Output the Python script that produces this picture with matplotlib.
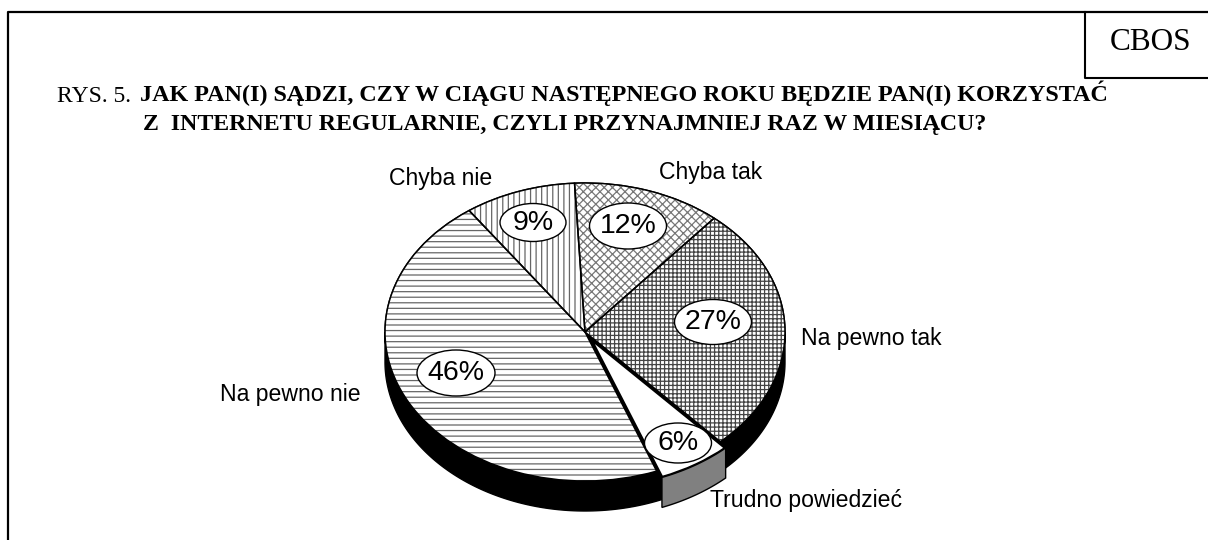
import numpy as np
import matplotlib
matplotlib.use("Agg")
import matplotlib.pyplot as plt
from matplotlib.patches import Ellipse

W, H = 1208, 540

labels = ["Chyba tak", "Na pewno tak", "Trudno powiedzieć", "Na pewno nie", "Chyba nie"]
values = [12, 27, 6, 46, 9]
pct_labels = ["12%", "27%", "6%", "46%", "9%"]
hatches = ["xxxx", "++++", "", "---", "|||"]
hatch_colors = ["#777777", "#444444", "k", "#666666", "#666666"]
explode = [0, 0, 0.05, 0, 0]

title_1a = "RYS. 5."
title_1b = "JAK PAN(I) SĄDZI, CZY W CIĄGU NASTĘPNEGO ROKU BĘDZIE PAN(I) KORZYSTAĆ"
title_2 = "Z  INTERNETU REGULARNIE, CZYLI PRZYNAJMNIEJ RAZ W MIESIĄCU?"

plt.rcParams["hatch.linewidth"] = 0.9
plt.rcParams["font.family"] = ["Liberation Sans", "DejaVu Sans"]
fig = plt.figure(figsize=(W / 100, H / 100), dpi=100)


def pixel_axes(z):
    a = fig.add_axes([0, 0, 1, 1], zorder=z)
    a.set_xlim(0, W)
    a.set_ylim(H, 0)
    a.axis("off")
    return a


# background axes in pixel coords, for frame and texts
bg = pixel_axes(0)
bg.plot([8, 8, W], [H, 12, 12], color="k", lw=1.6, clip_on=False)
bg.plot([1085, 1085, W], [12, 77.5, 77.5], color="k", lw=1.5)
bg.text(1151, 42, "CBOS", family="Liberation Serif", fontsize=22.5, ha="center", va="center")
bg.text(57, 101.5, title_1a, family="Liberation Serif", fontsize=17, va="baseline")
bg.text(140, 101.5, title_1b, family="Liberation Serif", fontsize=17.4, fontweight="bold", va="baseline")
bg.text(143, 130, title_2, family="Liberation Serif", fontsize=17.2, fontweight="bold", va="baseline")

# pie is a squashed circle: axes box is the top ellipse
cx, cy, rx, ry = 585, 332, 200, 149
depth = 30 / ry
ax = fig.add_axes([(cx - rx) / W, 1 - (cy + ry) / H, 2 * rx / W, 2 * ry / H], zorder=1)
ax.patch.set_alpha(0)
start = 93

# first pie only carries the hatch, second one the black outlines
fills, _ = ax.pie(values, startangle=start, counterclock=False, explode=explode, radius=1,
                  wedgeprops=dict(facecolor="white", linewidth=0))
for w, h, c in zip(fills, hatches, hatch_colors):
    w.set_hatch(h)
    w.set_edgecolor(c)
outlines, _ = ax.pie(values, startangle=start, counterclock=False, explode=explode, radius=1,
                     wedgeprops=dict(fill=False, edgecolor="k", linewidth=1.1))
outlines[2].set_linewidth(2.2)
ax.set_aspect("auto")
ax.set_xlim(-1, 1)
ax.set_ylim(-1, 1)
for s in ax.spines.values():
    s.set_visible(False)

# black side wall + black under the gap around the pulled out slice
tt = np.linspace(0, 2 * np.pi, 400)
ax.fill(np.cos(tt), np.sin(tt), color="k", zorder=0, clip_on=False)
low = np.linspace(np.pi, 2 * np.pi, 200)
ax.fill(np.r_[np.cos(low), np.cos(low)[::-1]],
        np.r_[np.sin(low), np.sin(low)[::-1] - depth],
        color="k", zorder=0, clip_on=False)

# grey outer wall of the pulled out slice
edges = np.cumsum([0] + values) / sum(values) * 360
a0 = np.radians(start - edges[2])
a1 = np.radians(start - edges[3])
mid = (a0 + a1) / 2
ox, oy = explode[2] * np.cos(mid), explode[2] * np.sin(mid)
arc = np.linspace(a0, a1, 40)
ax.fill(np.r_[np.cos(arc), np.cos(arc)[::-1]] + ox,
        np.r_[np.sin(arc), np.sin(arc)[::-1] - depth] + oy,
        facecolor="#808080", edgecolor="k", linewidth=1.0, zorder=3, clip_on=False)

for w in fills + outlines:
    w.set_clip_on(False)
for w in fills:
    w.set_zorder(2)
for w in outlines:
    w.set_zorder(2.5)

# percent ellipses and slice names on top
top = pixel_axes(2)
pct_xy = [(628, 226), (713, 322), (678, 443), (456, 373), (533, 222.5)]
pct_size = [(77, 46), (77, 45), (67, 40), (78, 46), (66, 38)]
for s, (x, y), (ew, eh) in zip(pct_labels, pct_xy, pct_size):
    top.add_patch(Ellipse((x, y), ew, eh, fc="white", ec="k", lw=1.0))
    top.text(x, y, s, fontsize=20.5, ha="center", va="center")

name_xy = [(659, 173, "left"), (801, 338, "left"), (710, 501, "left"), (361, 395, "right"), (492, 178, "right")]
for s, (x, y, ha) in zip(labels, name_xy):
    top.text(x, y, s, fontsize=16.6, ha=ha, va="center")

fig.savefig("out.png", dpi=100, facecolor="white")
